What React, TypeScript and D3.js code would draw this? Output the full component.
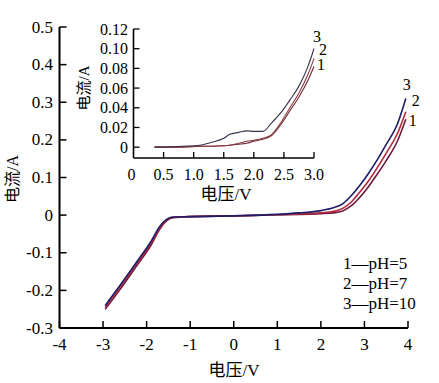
import React from "react";
import * as d3 from "d3";

// ---- Main chart data (voltage V, current A) ----
const mainVoltage = [-2.95, -2.6, -2.2, -1.9, -1.7, -1.55, -1.4, -1.0, 0, 1.0, 1.5, 2.0, 2.3, 2.5, 2.7, 2.9, 3.1, 3.3, 3.5, 3.75, 3.95];
const mainCurrent1 = [-0.25, -0.196, -0.13, -0.08, -0.038, -0.016, -0.007, -0.004, -0.002, 0.001, 0.002, 0.004, 0.006, 0.011, 0.025, 0.048, 0.077, 0.11, 0.145, 0.195, 0.255];
const mainCurrent2 = [-0.245, -0.19, -0.125, -0.075, -0.035, -0.014, -0.006, -0.004, -0.002, 0.001, 0.003, 0.006, 0.01, 0.018, 0.035, 0.062, 0.092, 0.127, 0.165, 0.215, 0.275];
const mainCurrent3 = [-0.24, -0.185, -0.12, -0.07, -0.03, -0.012, -0.005, -0.004, -0.002, 0.002, 0.006, 0.012, 0.02, 0.03, 0.052, 0.08, 0.112, 0.148, 0.188, 0.24, 0.31];

// ---- Inset data ----
const insetVoltage = [0.35, 0.8, 1.1, 1.3, 1.5, 1.6, 1.75, 1.88, 2.0, 2.15, 2.3, 2.45, 2.6, 2.75, 2.9, 3.0];
const insetCurrent1 = [0, 0, 0.001, 0.001, 0.0015, 0.002, 0.003, 0.004, 0.006, 0.008, 0.012, 0.023, 0.037, 0.051, 0.068, 0.082];
const insetCurrent2 = [0, 0, 0.001, 0.001, 0.0015, 0.002, 0.004, 0.006, 0.007, 0.009, 0.013, 0.025, 0.04, 0.055, 0.074, 0.09];
const insetCurrent3 = [0, 0.001, 0.002, 0.005, 0.009, 0.013, 0.015, 0.0165, 0.016, 0.016, 0.025, 0.035, 0.048, 0.062, 0.082, 0.1];

const mainXTicks = [-4, -3, -2, -1, 0, 1, 2, 3, 4];
const mainYTicks = [0.5, 0.4, 0.3, 0.2, 0.1, 0, -0.1, -0.2, -0.3];
const mainYTickLabels = ["0.5", "0.4", "0.3", "0.2", "0.1", "0", "-0.1", "-0.2", "-0.3"];
const insetXTicks = [0, 0.5, 1.0, 1.5, 2.0, 2.5, 3.0];
const insetXTickLabels = ["0", "0.5", "1.0", "1.5", "2.0", "2.5", "3.0"];
const insetYTicks = [0, 0.02, 0.04, 0.06, 0.08, 0.1, 0.12];
const insetYTickLabels = ["0", "0.02", "0.04", "0.06", "0.08", "0.10", "0.12"];
const seriesIds = ["1", "2", "3"];
const legendLabels = ["1—pH=5", "2—pH=7", "3—pH=10"];

const FONT = "Liberation Serif, Noto Sans CJK SC, serif";
const mainColors = ["#6e1840", "#b3283a", "#1c1c6a"];
const insetColors = ["#6a2a3a", "#8e3a3a", "#3a3050"];

export default function App() {
  const x = d3.scaleLinear().domain([-4, 4]).range([59.5, 408]);
  const y = d3.scaleLinear().domain([-0.3, 0.5]).range([328, 27]);
  const ix = d3.scaleLinear().domain([0, 3]).range([133.5, 314]);
  const iy = d3.scaleLinear().domain([-0.011, 0.12]).range([158, 29]);

  const mainLine = d3
    .line<[number, number]>()
    .x((d) => x(d[0]))
    .y((d) => y(d[1]))
    .curve(d3.curveMonotoneX);
  const insetLine = d3
    .line<[number, number]>()
    .x((d) => ix(d[0]))
    .y((d) => iy(d[1]))
    .curve(d3.curveMonotoneX);

  const mainSeries = [mainCurrent1, mainCurrent2, mainCurrent3].map((cs) =>
    mainVoltage.map((v, i) => [v, cs[i]] as [number, number])
  );
  const insetSeries = [insetCurrent1, insetCurrent2, insetCurrent3].map((cs) =>
    insetVoltage.map((v, i) => [v, cs[i]] as [number, number])
  );

  const last = (arr: [number, number][]) => arr[arr.length - 1];
  const mainLabelOffsets = [
    [7, 3],
    [10, -9],
    [1, -12],
  ];
  const insetLabelOffsets = [
    [7, 0],
    [9, -7],
    [3, -10],
  ];
  const st = { fontFamily: FONT };

  return (
    <svg width={439} height={383} style={{ position: "absolute", left: 0, top: 0, background: "#fff" }}>
      <rect width={439} height={383} fill="#fff" />
      {mainSeries.map((s, i) => (
        <path key={"m" + i} d={mainLine(s) || ""} fill="none" stroke={mainColors[i]} strokeWidth={1.6} />
      ))}
      {mainSeries.map((s, i) => {
        const p = last(s);
        return (
          <text
            key={"ml" + i}
            x={x(p[0]) + mainLabelOffsets[i][0]}
            y={y(p[1]) + mainLabelOffsets[i][1]}
            fontSize={16}
            textAnchor="middle"
            dominantBaseline="middle"
            style={st}
          >
            {seriesIds[i]}
          </text>
        );
      })}

      <line x1={x(-4)} x2={x(4)} y1={y(-0.3)} y2={y(-0.3)} stroke="#000" strokeWidth={2} />
      <line x1={x(-4)} x2={x(-4)} y1={y(-0.3)} y2={y(0.5)} stroke="#000" strokeWidth={2} />
      {mainXTicks.map((t) => (
        <g key={"xt" + t}>
          <line x1={x(t)} x2={x(t)} y1={y(-0.3)} y2={y(-0.3) - 7} stroke="#000" strokeWidth={1.5} />
          <text x={x(t)} y={350} fontSize={17} textAnchor="middle" style={st}>
            {String(t)}
          </text>
        </g>
      ))}
      {mainYTicks.map((t, i) => (
        <g key={"yt" + i}>
          <line x1={x(-4)} x2={x(-4) + 7} y1={y(t)} y2={y(t)} stroke="#000" strokeWidth={1.5} />
          <text x={53} y={y(t)} fontSize={17} textAnchor="end" dominantBaseline="central" style={st}>
            {mainYTickLabels[i]}
          </text>
        </g>
      ))}
      <text x={234} y={370} fontSize={17} textAnchor="middle" dominantBaseline="central" style={st}>
        电压/V
      </text>
      <text
        transform="translate(12,179) rotate(-90)"
        fontSize={16}
        textAnchor="middle"
        dominantBaseline="central"
        style={st}
      >
        电流/A
      </text>

      {legendLabels.map((l, i) => (
        <text key={"lg" + i} x={343} y={263 + i * 20} fontSize={17} dominantBaseline="central" style={st}>
          {l}
        </text>
      ))}

      {insetSeries.map((s, i) => (
        <path key={"i" + i} d={insetLine(s) || ""} fill="none" stroke={insetColors[i]} strokeWidth={1.1} />
      ))}
      {insetSeries.map((s, i) => {
        const p = last(s);
        return (
          <text
            key={"il" + i}
            x={ix(p[0]) + insetLabelOffsets[i][0]}
            y={iy(p[1]) + insetLabelOffsets[i][1]}
            fontSize={16}
            textAnchor="middle"
            dominantBaseline="middle"
            style={st}
          >
            {seriesIds[i]}
          </text>
        );
      })}

      <line x1={ix(0)} x2={ix(3)} y1={iy(-0.011)} y2={iy(-0.011)} stroke="#000" strokeWidth={1.6} />
      <line x1={ix(0)} x2={ix(0)} y1={iy(-0.011)} y2={iy(0.12)} stroke="#000" strokeWidth={1.6} />
      {insetXTicks.map((t, i) => (
        <g key={"ixt" + i}>
          {i > 0 && (
            <line x1={ix(t)} x2={ix(t)} y1={iy(-0.011)} y2={iy(-0.011) - 6} stroke="#000" strokeWidth={1.3} />
          )}
          <text x={i === 0 ? ix(t) - 2 : ix(t)} y={180} fontSize={16} textAnchor="middle" style={st}>
            {insetXTickLabels[i]}
          </text>
        </g>
      ))}
      {insetYTicks.map((t, i) => (
        <g key={"iyt" + i}>
          <line x1={ix(0)} x2={ix(0) + 6} y1={iy(t)} y2={iy(t)} stroke="#000" strokeWidth={1.3} />
          <text x={128} y={iy(t)} fontSize={16} textAnchor="end" dominantBaseline="central" style={st}>
            {insetYTickLabels[i]}
          </text>
        </g>
      ))}
      <text x={226} y={194} fontSize={17} textAnchor="middle" dominantBaseline="central" style={st}>
        电压/V
      </text>
      <text
        transform="translate(84,88) rotate(-90)"
        fontSize={15}
        textAnchor="middle"
        dominantBaseline="central"
        style={st}
      >
        电流/A
      </text>
    </svg>
  );
}
